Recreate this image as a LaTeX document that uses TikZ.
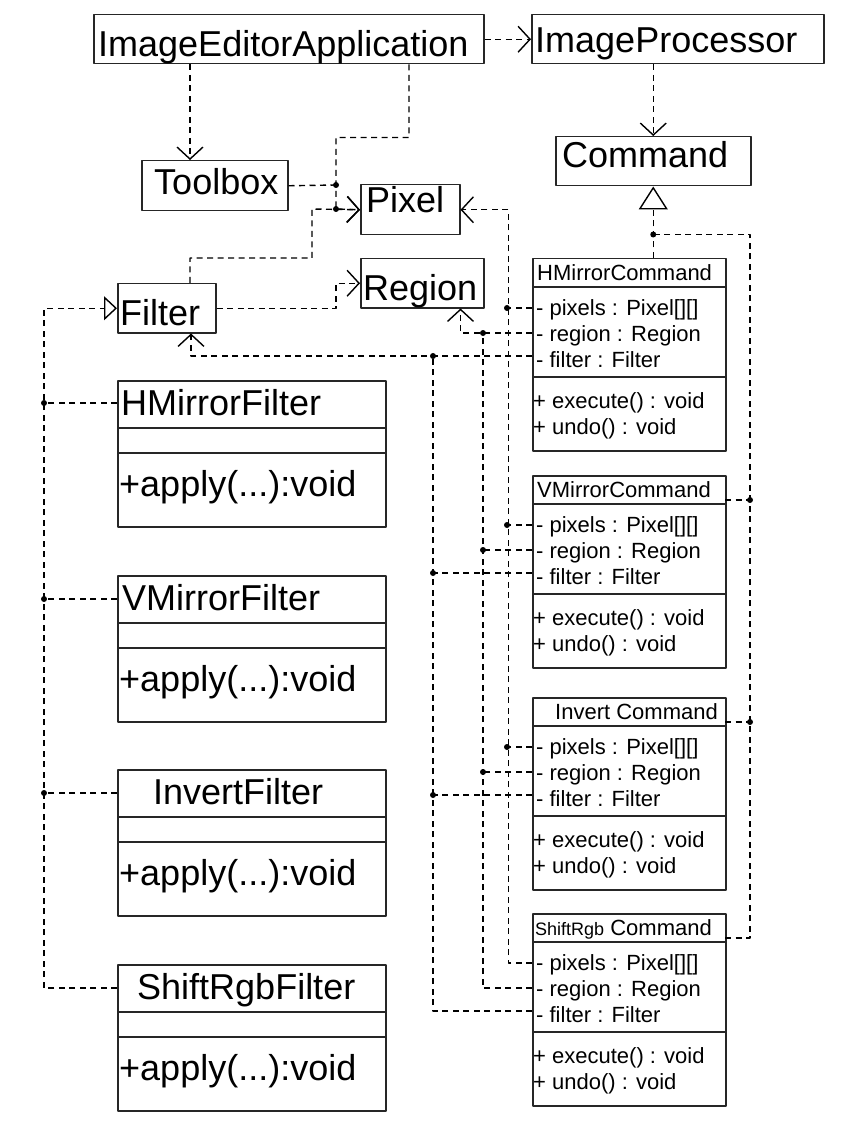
\documentclass[tikz,border=0pt]{standalone}
\usepackage{fontspec}
\setmainfont{Liberation Sans}
\usetikzlibrary{calc,arrows.meta}

\tikzset{
  box/.style={draw=black!85, line width=1.5pt, anchor=north west, inner sep=0pt},
  txt/.style={anchor=base west, inner sep=0pt, font=\fontsize{36}{40}\selectfont},
  mem/.style={anchor=base west, inner sep=0pt, font=\fontsize{22}{26}\selectfont},
  sep/.style={draw=black!85, line width=1.5pt},
  dep/.style={line width=1.4pt, dash pattern=on 6pt off 4.5pt},
}

\begin{document}
\begin{tikzpicture}[x=1pt,y=-1pt,line join=round,>={Straight Barb[length=12pt,width=26pt,line width=1.4pt]}]
  \useasboundingbox (0,0) rectangle (848,1139);

  % Lop chinh
  \node[box, minimum width=390pt, minimum height=49pt] (app) at (93,14) {};
  \node[txt] (app-t) at (98,57) {ImageEditorApplication};
  \node[box, minimum width=292pt, minimum height=49pt] (proc) at (531,14) {};
  \node[txt] (proc-t) at (535,53) {ImageProcessor};
  \node[box, minimum width=195pt, minimum height=49pt] (cmd) at (555,136) {};
  \node[txt] (cmd-t) at (562,168) {Command};
  \node[box, minimum width=146pt, minimum height=50pt] (tools) at (141,160) {};
  \node[txt] (tools-t) at (154,195) {Toolbox};
  \node[box, minimum width=99pt, minimum height=50pt] (pixel) at (360,184) {};
  \node[txt] (pixel-t) at (366,213) {Pixel};
  \node[box, minimum width=123pt, minimum height=49pt] (region) at (360,258) {};
  \node[txt] (region-t) at (363,301) {Region};
  \node[box, minimum width=98pt, minimum height=49pt] (filter) at (117,283) {};
  \node[txt] (filter-t) at (120,325) {Filter};

  % Cac bo loc
  \foreach \fl/\lbl/\ty/\nx in {hmf/HMirrorFilter/380/121, vmf/VMirrorFilter/575/122,
      invf/InvertFilter/769/153, rgbf/ShiftRgbFilter/964/137}{
    \node[box, minimum width=268pt, minimum height=146pt] (\fl) at (117,\ty) {};
    \node[txt] (\fl-t) at (\nx,\ty+35) {\lbl};
    \node[txt] (\fl-m) at (119,\ty+116) {+apply(...):void};
    \path[sep] ($(\fl.north west)+(0,48)$) -- ($(\fl.north east)+(0,48)$)
      ($(\fl.north west)+(0,73)$) -- ($(\fl.north east)+(0,73)$);
  }

  % Cac lenh
  \foreach \cl/\lbl/\ty/\nx in {hmc/HMirrorCommand/258/537, vmc/VMirrorCommand/475/537,
      invc/{Invert Command}/697/555, rgbc/{{\fontsize{18}{20}\selectfont ShiftRgb} Command}/913/535}{
    \node[box, minimum width=193pt, minimum height=192pt] (\cl) at (532,\ty) {};
    \node[mem] (\cl-t) at (\nx,\ty+22) {\lbl};
    \node[mem] (\cl-a1) at (536,\ty+57) {- pixels : Pixel[][]};
    \node[mem] (\cl-a2) at (536,\ty+83) {- region : Region};
    \node[mem] (\cl-a3) at (536,\ty+109) {- filter : Filter};
    \node[mem] (\cl-m1) at (533,\ty+150) {+ execute() : void};
    \node[mem] (\cl-m2) at (533,\ty+176) {+ undo() : void};
    \path[sep] ($(\cl.north west)+(0,29)$) -- ($(\cl.north east)+(0,29)$)
      ($(\cl.north west)+(0,119)$) -- ($(\cl.north east)+(0,119)$);
    \coordinate (\cl-p) at (532,\ty+50);
    \coordinate (\cl-r) at (532,\ty+75);
    \coordinate (\cl-f) at (532,\ty+98);
    \coordinate (\cl-g) at (725,\ty+25);
  }

  % Phu thuoc phia tren
  \coordinate (jt) at (336,185);
  \coordinate (jp) at (336,209);
  \draw[dep,->] (app) -- (proc);
  \draw[dep,->] (cmd.south |- proc.south) -- (cmd.north);
  \draw[dep,->] ($(app.south west)+(97,0)$) -- ($(tools.north west)+(49,0)$);
  \draw[dep,->] ($(app.south west)+(316,0)$) -- ++(0,73) -| (jp) -- (pixel.west);
  \draw[dep] (tools.east) -- (jt);
  \draw[dep,->] ($(filter.north west)+(73,0)$) -- ++(0,-25) -| ($(jp)+(-24,0)$) -- (pixel.west);
  \draw[dep,->] (filter.east) -| ($(region.west)+(-24,0)$) -- (region.west);
  \fill (jt) circle (3pt) (jp) circle (3pt);

  % Ke thua Filter
  \draw[dep,-{Triangle[open,length=13pt,width=24pt,line width=1.4pt]}]
    ($(rgbf.north west)+(0,24)$) -- ++(-73,0) |- (filter.west);
  \foreach \fl/\dy in {hmf/23, vmf/24, invf/24}{
    \draw[dep] ($(\fl.north west)+(0,\dy)$) -- ++(-73,0);
    \fill ($(\fl.north west)+(-73,\dy)$) circle (3pt);
  }

  % Ke thua Command
  \coordinate (jc) at ($(cmd.south)+(0,48)$);
  \draw[dep,-{Triangle[open,length=23pt,width=29pt,line width=1.4pt]}] (cmd.south |- hmc.north) -- (cmd.south);
  \draw[dep] (rgbc-g) -- ++(25,0) |- (jc);
  \fill (jc) circle (3pt);
  \foreach \cl in {vmc, invc}{
    \draw[dep] (\cl-g) -- ++(25,0);
    \fill ($(\cl-g)+(25,0)$) circle (3pt);
  }

  % Lien ket pixels, region, filter
  \draw[dep,->] (rgbc-p) -| ($(pixel.east)+(48,0)$) -- (pixel.east);
  \draw[dep,->] (hmc-r) -| ($(region.south east)+(-24,0)$);
  \draw[dep] (rgbc-r) -| ($(hmc-r)+(-49,0)$);
  \draw[dep,->] (hmc-f) -| ($(filter.south west)+(74,0)$);
  \draw[dep] (rgbc-f) -| ($(hmc-f)+(-99,0)$);
  \fill ($(hmc-r)+(-49,0)$) circle (3pt) ($(hmc-f)+(-99,0)$) circle (3pt);
  \foreach \cl in {hmc, vmc, invc}{
    \draw[dep] (\cl-p) -- ++(-25,0);
    \fill ($(\cl-p)+(-25,0)$) circle (3pt);
  }
  \foreach \cl in {vmc, invc}{
    \draw[dep] (\cl-r) -- ++(-49,0);
    \draw[dep] (\cl-f) -- ++(-99,0);
    \fill ($(\cl-r)+(-49,0)$) circle (3pt) ($(\cl-f)+(-99,0)$) circle (3pt);
  }
\end{tikzpicture}
\end{document}
